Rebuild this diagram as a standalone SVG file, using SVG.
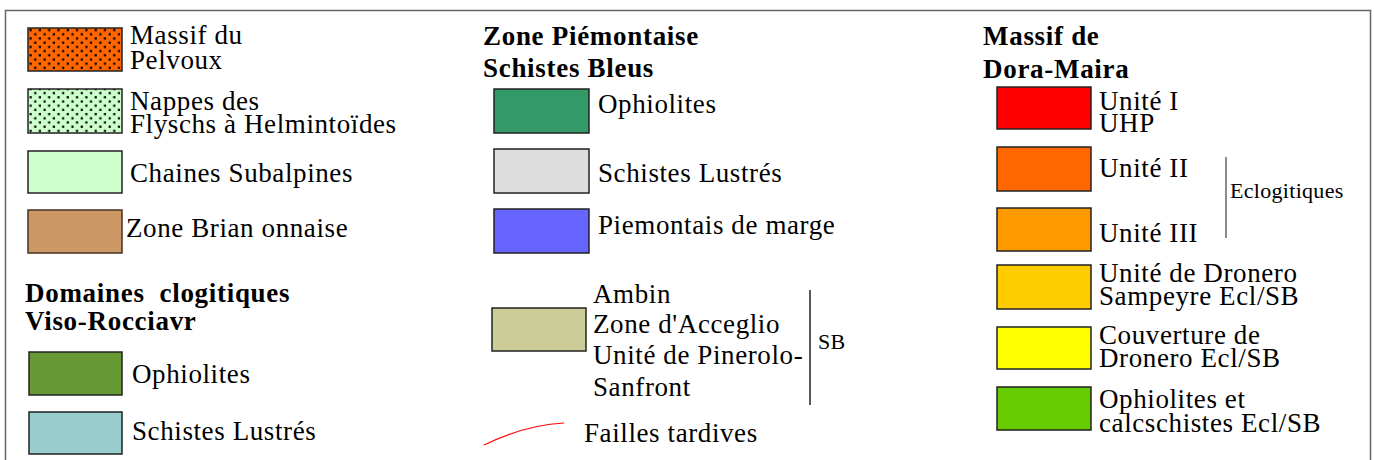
<svg xmlns="http://www.w3.org/2000/svg" width="1374" height="460" viewBox="0 0 1374 460">
<style>
.t{font-family:"Liberation Serif","Times New Roman",serif;font-size:27px;letter-spacing:0.6px;fill:#000}
.h{font-family:"Liberation Serif","Times New Roman",serif;font-size:27px;font-weight:bold;letter-spacing:0.7px;fill:#000}
.s{font-family:"Liberation Serif","Times New Roman",serif;font-size:22px;letter-spacing:0.3px;fill:#000}
.b{stroke:#222;stroke-width:1.5}
.v{stroke:#222;stroke-width:1.5;fill:none}
</style>
<defs>
<pattern id="dots" x="28" y="28" width="9.3" height="8.4" patternUnits="userSpaceOnUse">
<rect x="1.5" y="1" width="2.2" height="2.2" fill="#000"/>
<rect x="6.2" y="5.2" width="2.2" height="2.2" fill="#000"/>
</pattern>
</defs>
<rect x="0" y="0" width="1374" height="460" fill="#fff"/>
<rect x="5.5" y="10.5" width="1365" height="470" fill="none" stroke="#666" stroke-width="1.5"/>

<g id="massif-pelvoux">
<rect class="b" x="28" y="28" width="94" height="43" fill="#FF6600"/>
<rect x="28" y="28" width="94" height="43" fill="url(#dots)"/>
<text class="t" x="130" y="44">Massif du</text>
<text class="t" x="130" y="69">Pelvoux</text>
</g>
<g id="nappes-flyschs">
<rect class="b" x="28" y="89" width="94" height="44" fill="#CCFFCC"/>
<rect x="28" y="89" width="94" height="44" fill="url(#dots)"/>
<text class="t" x="130" y="110">Nappes des</text>
<text class="t" x="130" y="133">Flyschs à Helmintoïdes</text>
</g>
<g id="chaines-subalpines">
<rect class="b" x="28" y="151" width="94" height="42" fill="#CCFFCC"/>
<text class="t" x="130" y="182">Chaines Subalpines</text>
</g>
<g id="zone-brianconnaise">
<rect x="28" y="210" width="94" height="43" fill="#CC9966" stroke="#443322" stroke-width="1.5"/>
<text class="t" x="126" y="237">Zone Brian onnaise</text>
</g>

<g id="header-domaines">
<text class="h" x="25" y="302" xml:space="preserve">Domaines  clogitiques</text>
<text class="h" x="25" y="330">Viso-Rocciavr</text>
</g>
<g id="viso-ophiolites">
<rect class="b" x="29" y="352" width="93" height="43" fill="#669933"/>
<text class="t" x="132" y="383">Ophiolites</text>
</g>
<g id="viso-schistes">
<rect class="b" x="29" y="412" width="93" height="42" fill="#99CCCC"/>
<text class="t" x="132" y="440">Schistes Lustrés</text>
</g>

<g id="header-piemontaise">
<text class="h" x="483" y="45">Zone Piémontaise</text>
<text class="h" x="483" y="77">Schistes Bleus</text>
</g>
<g id="piem-ophiolites">
<rect class="b" x="494" y="89" width="95" height="44" fill="#339966"/>
<text class="t" x="598" y="113">Ophiolites</text>
</g>
<g id="piem-schistes">
<rect class="b" x="494" y="149" width="95" height="44" fill="#DDDDDD"/>
<text class="t" x="598" y="182">Schistes Lustrés</text>
</g>
<g id="piem-marge">
<rect class="b" x="494" y="209" width="95" height="44" fill="#6666FF"/>
<text class="t" x="598" y="234">Piemontais de marge</text>
</g>
<g id="ambin">
<rect class="b" x="492" y="308" width="94" height="43" fill="#CCCC99"/>
<text class="t" x="593" y="303">Ambin</text>
<text class="t" x="593" y="333">Zone d'Acceglio</text>
<text class="t" x="593" y="364">Unité de Pinerolo-</text>
<text class="t" x="593" y="396">Sanfront</text>
<text class="s" x="818" y="349">SB</text>
</g>
<g id="failles">
<text class="t" x="584" y="442">Failles tardives</text>
</g>

<g id="header-dora">
<text class="h" x="983" y="45">Massif de</text>
<text class="h" x="983" y="78">Dora-Maira</text>
</g>
<g id="unite-1">
<rect class="b" x="997" y="87" width="94" height="42" fill="#FF0000"/>
<text class="t" x="1099" y="110">Unité I</text>
<text class="t" x="1099" y="132">UHP</text>
</g>
<g id="unite-2">
<rect class="b" x="997" y="147" width="94" height="44" fill="#FF6600"/>
<text class="t" x="1099" y="177">Unité II</text>
</g>
<g id="unite-3">
<rect class="b" x="997" y="208" width="94" height="43" fill="#FF9900"/>
<text class="t" x="1099" y="242">Unité III</text>
<text class="s" x="1230" y="198">Eclogitiques</text>
</g>
<g id="dronero">
<rect class="b" x="997" y="265" width="94" height="44" fill="#FFCC00"/>
<text class="t" x="1099" y="282">Unité de Dronero</text>
<text class="t" x="1099" y="305">Sampeyre Ecl/SB</text>
</g>
<g id="couverture">
<rect class="b" x="997" y="327" width="94" height="42" fill="#FFFF00"/>
<text class="t" x="1099" y="344">Couverture de</text>
<text class="t" x="1099" y="367">Dronero Ecl/SB</text>
</g>
<g id="ophiolites-calc">
<rect class="b" x="997" y="387" width="94" height="43" fill="#66CC00"/>
<text class="t" x="1099" y="408">Ophiolites et</text>
<text class="t" x="1099" y="432">calcschistes Ecl/SB</text>
</g>

<g id="connectors">
<line class="v" x1="810" y1="290" x2="810" y2="405"/>
<line x1="1226" y1="157" x2="1226" y2="238" stroke="#666" stroke-width="1.5"/>
<path d="M484,445 Q525,425 564,423" fill="none" stroke="#FF0000" stroke-width="1.2"/>
</g>
</svg>
